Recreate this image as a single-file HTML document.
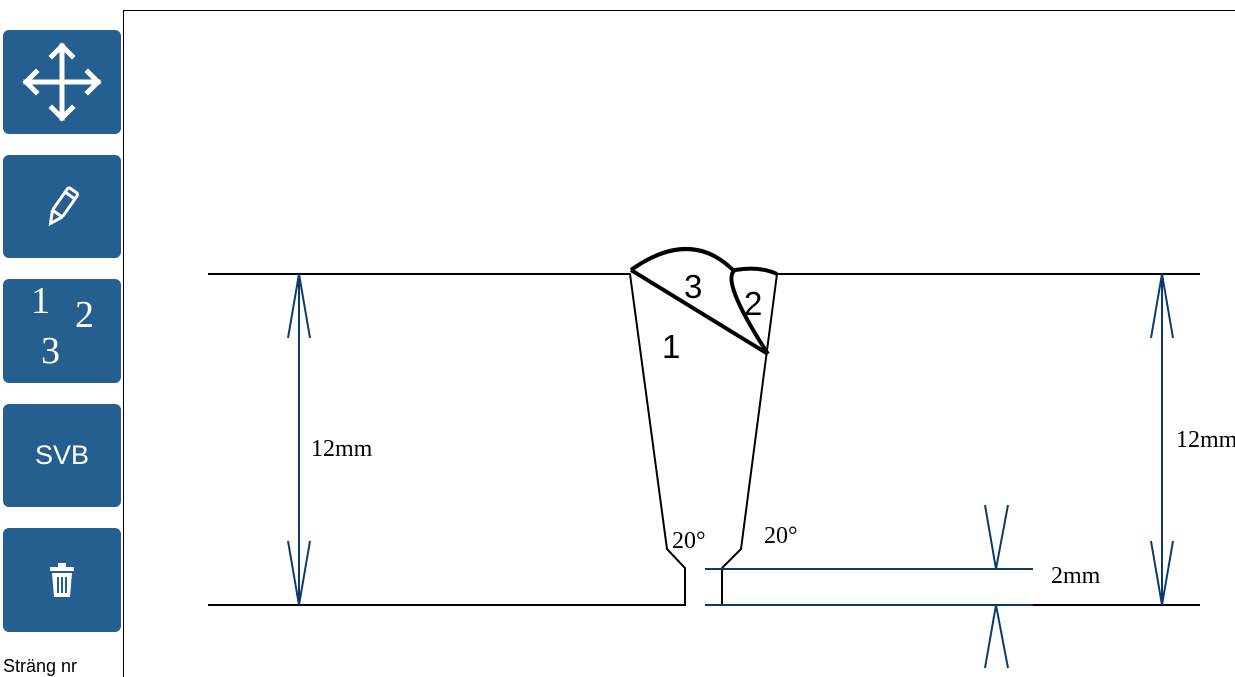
<!DOCTYPE html>
<html><head><style>
body{margin:0;width:1235px;height:677px;overflow:hidden;background:#fff;font-family:"Liberation Sans",sans-serif;position:relative}
.b{position:absolute;left:3px;width:118px;background:#245f8f;border-radius:6px;color:#fff;display:flex;align-items:center;justify-content:center}
</style></head><body>
<div class="b" style="top:30px;height:104px"><svg width="84" height="84" viewBox="-42 -42 84 84" stroke="#fff" stroke-width="5" fill="none" stroke-linecap="square"><path d="M0-36V36M-36 0H36M-10-26L0-36 10-26M-10 26L0 36 10 26M-26-10L-36 0-26 10M26-10L36 0 26 10"/></svg></div>
<div class="b" style="top:155px;height:103px"><svg width="40" height="44" viewBox="0 0 40 44"><g transform="rotate(35 20 22)" fill="none" stroke="#fff" stroke-width="3"><rect x="14" y="2" width="12" height="28" rx="2"/><path d="M14 30L20 42 26 30"/><path d="M14 8H26"/></g></svg></div>
<div class="b" style="top:279px;height:104px;font-family:'Liberation Serif',serif;font-size:38px"><span style="position:absolute;left:28px;top:0px">1</span><span style="position:absolute;left:72px;top:14px">2</span><span style="position:absolute;left:38px;top:50px">3</span></div>
<div class="b" style="top:404px;height:103px;font-size:27px">SVB</div>
<div class="b" style="top:528px;height:104px"><svg width="26" height="36" viewBox="0 0 26 36" fill="#fff"><rect x="1" y="5" width="24" height="4" rx="1"/><rect x="9" y="1" width="8" height="5"/><path d="M3 11H23L21 35H5Z"/><g stroke="#245f8f" stroke-width="2"><path d="M9 15V31M13 15V31M17 15V31"/></g></svg></div>
<div style="position:absolute;left:3px;top:656px;font-size:18px">Sträng nr</div>
<svg style="position:absolute;left:0;top:0" width="1235" height="677">
<path d="M123.5 677V10.5H1235" stroke="#000" fill="none"/>
<g stroke="#000" stroke-width="2" fill="none">
<path d="M208 274H630L667 549 685 568V605H208"/>
<path d="M1200 274H777L741 549 722 568V605"/>
<path d="M1033 605H1200"/>
</g>
<g stroke="#000" stroke-width="4" fill="none" stroke-linejoin="round">
<path d="M631 270Q690 228 733 270"/>
<path d="M631 270L768 354"/>
<path d="M768 354Q720 280 735 270Q760 266 777 274"/>
</g>
<g stroke="#0d3a6a" stroke-width="2" fill="none">
<path d="M705 569H1033M705 605H1033"/>
<path d="M299 274V605M288 338L299 274 310 338M288 541L299 605 310 541"/>
<path d="M1162 274V605M1151 338L1162 274 1173 338M1151 541L1162 605 1173 541"/>
<path d="M985 505L996 569 1008 505M985 668L996 605 1008 668"/>
</g>
<g font-family="Liberation Serif,serif" font-size="24" fill="#000">
<text x="311" y="456">12mm</text>
<text x="1176" y="447">12mm</text>
<text x="672" y="548">20°</text>
<text x="764" y="543">20°</text>
<text x="1051" y="583">2mm</text>
</g>
<g font-family="Liberation Sans,sans-serif" font-size="33" fill="#000">
<text x="684" y="298">3</text>
<text x="744" y="315">2</text>
<text x="662" y="358">1</text>
</g>
</svg>
</body></html>
